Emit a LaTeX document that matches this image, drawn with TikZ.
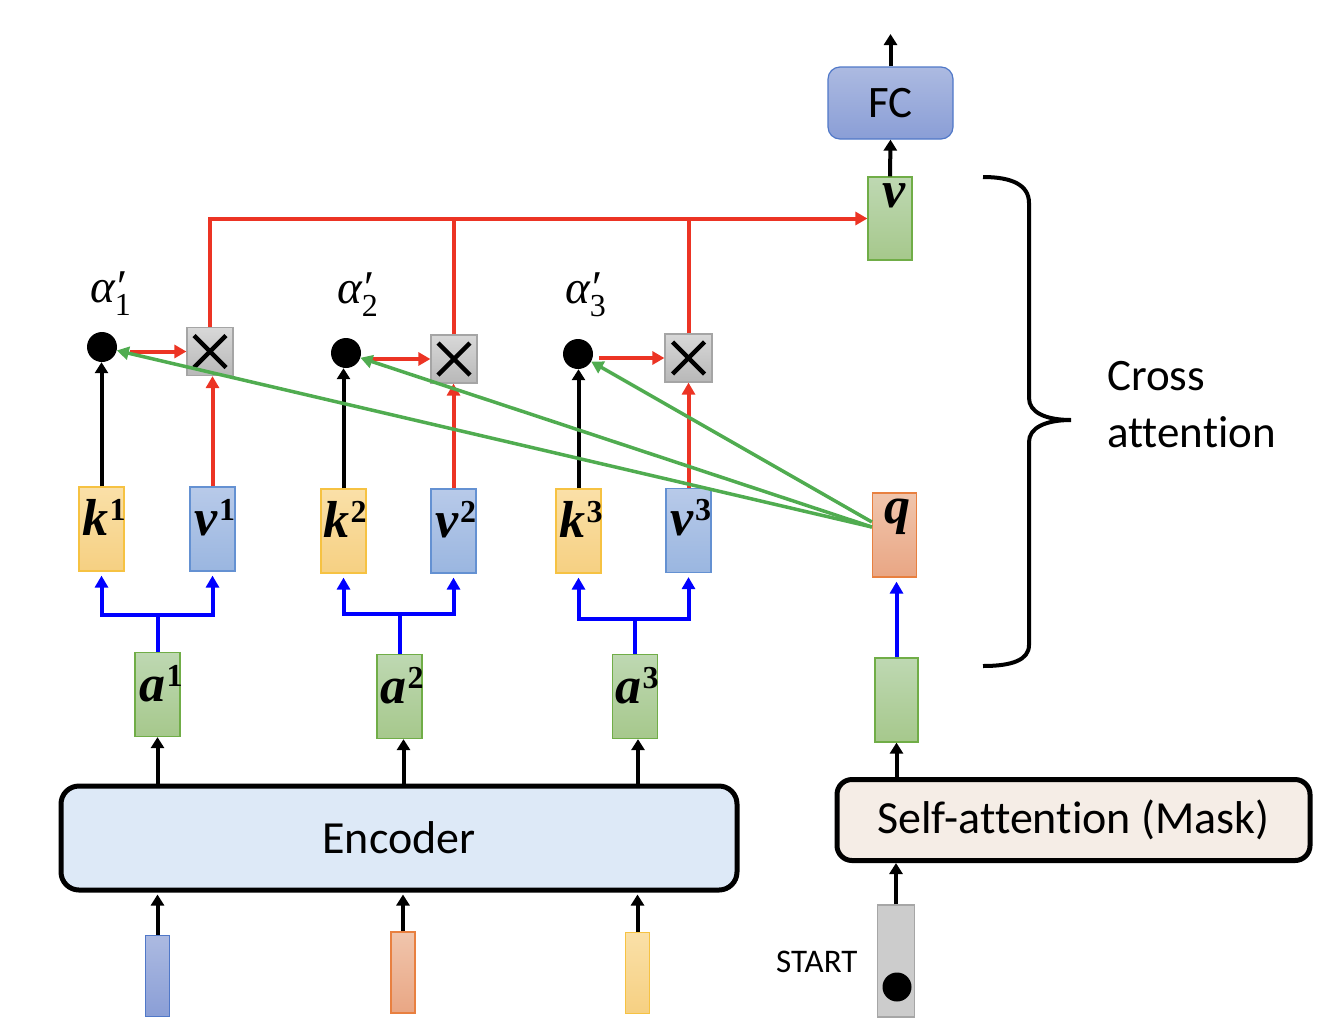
\documentclass[tikz,border=0pt]{standalone}
\usepackage{fontspec}
\setmainfont{Carlito}[Ligatures=NoCommon]
\newfontfamily\lblfont{Liberation Serif}
\usetikzlibrary{arrows.meta}

\definecolor{redc}{RGB}{236,52,36}
\definecolor{grnc}{RGB}{80,172,80}
\definecolor{bluc}{RGB}{0,0,255}
\definecolor{gTop}{RGB}{190,216,178}
\definecolor{gBot}{RGB}{166,200,140}
\definecolor{gBrd}{RGB}{112,173,71}
\definecolor{yTop}{RGB}{250,224,168}
\definecolor{yBot}{RGB}{246,208,130}
\definecolor{yBrd}{RGB}{246,194,66}
\definecolor{bTop}{RGB}{184,202,233}
\definecolor{bBot}{RGB}{154,182,224}
\definecolor{bBrd}{RGB}{100,145,210}
\definecolor{oTop}{RGB}{240,197,172}
\definecolor{oBot}{RGB}{233,166,132}
\definecolor{oBrd}{RGB}{232,128,64}
\definecolor{fTop}{RGB}{172,186,225}
\definecolor{fBot}{RGB}{138,158,214}
\definecolor{fBrd}{RGB}{80,120,200}
\definecolor{xTop}{RGB}{216,216,216}
\definecolor{xBot}{RGB}{184,184,184}
\definecolor{xBrd}{RGB}{165,165,165}
\definecolor{encFill}{RGB}{221,233,247}
\definecolor{saFill}{RGB}{245,237,230}

% bold italic letter with a bold upright superscript
\newcommand{\veclbl}[2]{{\lblfont\fontsize{52}{52}\selectfont\bfseries\itshape #1}\kern1pt\raisebox{15pt}{\lblfont\fontsize{32}{32}\selectfont\bfseries #2}}
% attention weight alpha' with a subscript
\newcommand{\attw}[1]{{\lblfont\fontsize{47}{47}\selectfont\itshape α\rlap{′}\raisebox{-13pt}{\fontsize{32}{32}\selectfont\upshape #1}}}

\tikzset{
  vecbox/.style={draw, line width=1.2pt, minimum width=45pt, minimum height=84pt, inner sep=0pt},
  gbox/.style={vecbox, draw=gBrd, top color=gTop, bottom color=gBot},
  ybox/.style={vecbox, draw=yBrd, top color=yTop, bottom color=yBot},
  bbox/.style={vecbox, draw=bBrd, top color=bTop, bottom color=bBot},
  obox/.style={vecbox, draw=oBrd, top color=oTop, bottom color=oBot},
  inbar/.style={vecbox, minimum width=24pt, minimum height=81pt},
  mulbox/.style={draw=xBrd, line width=1.2pt, top color=xTop, bottom color=xBot,
    minimum width=46pt, minimum height=48pt, inner sep=0pt,
    path picture={\draw[draw=black, line width=4.5pt] (path picture bounding box.center) ++(-16,-16) -- ++(32,32);
                  \draw[draw=black, line width=4.5pt] (path picture bounding box.center) ++(16,-16) -- ++(-32,32);}},
  dot/.style={circle, fill=black, minimum size=30pt, inner sep=0pt},
  bigbox/.style={draw, line width=5pt, rounded corners=18pt, inner sep=0pt},
  lbl/.style={inner sep=0pt, anchor=base},
  conn/.style={line width=4pt},
  blk/.style={conn, -{Triangle[length=11pt,width=13pt]}},
  redln/.style={conn, draw=redc},
  redarr/.style={conn, draw=redc, -{Triangle[length=12pt,width=13pt]}},
  bluln/.style={conn, draw=bluc},
  bluarr/.style={conn, draw=bluc, -{Triangle[length=12pt,width=13pt]}, shorten >=4pt},
  grnarr/.style={line width=3.5pt, draw=grnc, -{Triangle[length=12pt,width=13pt]}},
}

\begin{document}
\begin{tikzpicture}[x=1pt, y=-1pt]
\useasboundingbox (0,0) rectangle (1330,1034);

% encoder inputs
\node[inbar, draw=fBrd, top color=fTop, bottom color=fBot] (in1) at (157.5,976) {};
\node[inbar, draw=oBrd, top color=oTop, bottom color=oBot] (in2) at (403,972.5) {};
\node[inbar, draw=yBrd, top color=yTop, bottom color=yBot] (in3) at (637.5,973) {};

% encoder
\node[bigbox, fill=encFill, minimum width=676pt, minimum height=104pt,
      font=\fontsize{46}{46}\selectfont] (enc) at (399,838) {Encoder};

% encoder outputs
\node[gbox] (a1) at (157.5,694.5) {};
\node[gbox] (a2) at (399.5,696.5) {};
\node[gbox] (a3) at (635,696.5) {};
\node[lbl] (a1l) at (161,701) {\veclbl{a}{1}};
\node[lbl] (a2l) at (402,703) {\veclbl{a}{2}};
\node[lbl] (a3l) at (637,703) {\veclbl{a}{3}};

% keys and values
\node[ybox] (k1) at (101.5,529) {};
\node[bbox] (v1) at (212.5,529) {};
\node[ybox] (k2) at (343.5,531) {};
\node[bbox] (v2) at (453.5,531) {};
\node[ybox] (k3) at (578.5,531) {};
\node[bbox] (v3) at (688.5,530.5) {};
\node[lbl] (k1l) at (104,535) {\veclbl{k}{1}};
\node[lbl] (v1l) at (215,535) {\veclbl{v}{1}};
\node[lbl] (k2l) at (345,537) {\veclbl{k}{2}};
\node[lbl] (v2l) at (456,537) {\veclbl{v}{2}};
\node[lbl] (k3l) at (581,537) {\veclbl{k}{3}};
\node[lbl] (v3l) at (691,535) {\veclbl{v}{3}};

% query
\node[obox, minimum width=44pt] (q) at (894.5,535) {};
\node[lbl] (ql) at (897,523) {{\lblfont\fontsize{52}{52}\selectfont\bfseries\itshape q}};

% attention scores
\node[dot] (d1) at (102,347) {};
\node[dot] (d2) at (346,353) {};
\node[dot] (d3) at (578,354) {};
\node[lbl, anchor=base west] (al1) at (90,302) {\attw{1}};
\node[lbl, anchor=base west] (al2) at (337,303) {\attw{2}};
\node[lbl, anchor=base west] (al3) at (565,303) {\attw{3}};

% weighting
\node[mulbox] (x1) at (210,351.5) {};
\node[mulbox] (x2) at (454,359) {};
\node[mulbox, minimum width=47pt] (x3) at (688.5,358) {};

% output
\node[gbox, minimum width=44pt, minimum height=83pt] (vf) at (890,218.5) {};
\node[lbl] (vfl) at (894.5,207) {{\lblfont\fontsize{52}{52}\selectfont\bfseries\itshape v}};
\node[draw=fBrd, line width=1.2pt, top color=fTop, bottom color=fBot, rounded corners=12pt,
      minimum width=125pt, minimum height=72pt, inner sep=0pt,
      font=\fontsize{45}{45}\selectfont] (fc) at (890.5,103) {FC};
\coordinate (out) at (890.5,34);

% decoder side
\node[gbox, minimum width=43pt] (qin) at (896.5,700) {};
\node[bigbox, fill=saFill, rounded corners=15pt, minimum width=473pt, minimum height=81pt,
      font=\fontsize{46}{46}\selectfont] (sa) at (1073.5,820) {Self-attention (Mask)};
\node[draw={rgb,255:red,166;green,166;blue,166}, fill={rgb,255:red,204;green,204;blue,204},
      line width=1.2pt, minimum width=37pt, minimum height=112pt, inner sep=0pt] (st) at (896,961) {};
\node[dot, minimum size=29pt] (std) at (897,987) {};
\node[lbl, anchor=base west, font=\fontsize{33}{33}\selectfont] (stl) at (776,972) {START};

% brace and its label
\draw[line width=4pt] (983,177) .. controls (1012,177) and (1029,185) .. (1029,203)
  -- (1029,398) .. controls (1029,412) and (1045,420) .. (1071,420)
  .. controls (1045,420) and (1029,428) .. (1029,442)
  -- (1029,645) .. controls (1029,660) and (1012,666) .. (983,666);
\node[lbl, anchor=base west, font=\fontsize{45}{45}\selectfont] (ca1) at (1107,390) {Cross};
\node[lbl, anchor=base west, font=\fontsize{45}{45}\selectfont] (ca2) at (1107,447) {attention};

% black connectors
\draw[blk, shorten >=2pt] (in1.north) -- (in1.north |- enc.south);
\draw[blk, shorten >=2pt] (in2.north) -- (in2.north |- enc.south);
\draw[blk, shorten >=2pt] (in3.north) -- (in3.north |- enc.south);
\draw[blk] (a1.south |- enc.north) -- (a1.south);
\draw[blk] ([xshift=4pt]a2.south |- enc.north) -- ([xshift=4pt]a2.south);
\draw[blk] ([xshift=3pt]a3.south |- enc.north) -- ([xshift=3pt]a3.south);
\draw[blk] (k1.north) -- (k1.north |- d1.south);
\draw[blk] (k2.north) -- (k2.north |- d2.south);
\draw[blk] (k3.north) -- (k3.north |- d3.south);
\draw[blk] (vf.north) -- (fc.south);
\draw[blk] (fc.north) -- (out);
\draw[blk] (qin.south |- sa.north) -- (qin.south);
\draw[blk] (st.north) -- (st.north |- sa.south);

% blue connectors
\draw[bluln] (a1.north) -- ++(0,-37) coordinate (j1);
\draw[bluarr] (j1) -| (k1.south);
\draw[bluarr] (j1) -| (v1.south);
\draw[bluln] (a2.north) -- ++(0,-40) coordinate (j2);
\draw[bluarr] (j2) -| (k2.south);
\draw[bluarr] (j2) -| (v2.south);
\draw[bluln] (a3.north) -- ++(0,-35) coordinate (j3);
\draw[bluarr] (j3) -| (k3.south);
\draw[bluarr] (j3) -| (v3.south);
\draw[bluarr] (qin.north) -- (qin.north |- q.south);

% red connectors
\draw[redarr] ([xshift=13pt]x1.west -| d1.east) -- (x1.west);
\draw[redarr] ([xshift=6pt]x2.west -| d2.east) -- (x2.west);
\draw[redarr] ([xshift=6pt]x3.west -| d3.east) -- (x3.west);
\draw[redarr] (v1.north) -- (v1.north |- x1.south);
\draw[redarr] (v2.north) -- (v2.north |- x2.south);
\draw[redarr] (v3.north) -- (v3.north |- x3.south);
\draw[redarr] (x1.north) |- (vf.west);
\draw[redln] (x2.north) -- (x2.north |- vf.west);
\draw[redln] (x3.north) -- (x3.north |- vf.west);

% green connectors from the query
\draw[grnarr] ([yshift=8pt]q.west) -- (d1);
\draw[grnarr] ([yshift=8pt]q.west) -- (d2);
\draw[grnarr] ([yshift=13pt]q.west) -- (d3);
\end{tikzpicture}
\end{document}
